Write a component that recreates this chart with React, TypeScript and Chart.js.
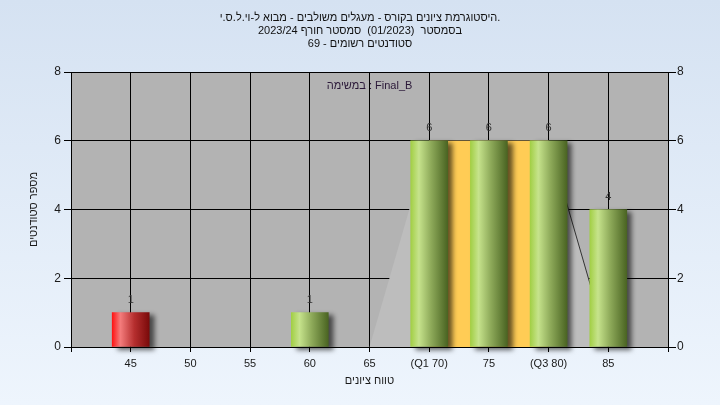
import { useEffect, useRef } from 'react';
import { Chart, registerables } from 'chart.js';

Chart.register(...registerables);

const titleLines = [
  'היסטוגרמת ציונים בקורס - מעגלים משולבים - מבוא ל-וי.ל.ס.י.',
  'בסמסטר  (01/2023)  סמסטר חורף 2023/24',
  'סטודנטים רשומים - 69',
];
const assignmentLabel = 'במשימה : Final_B';
const xAxisTitle = 'טווח ציונים';
const yAxisTitle = 'מספר סטודנטים';

const xTickValues = [45, 50, 55, 60, 65, 70, 75, 80, 85];
const xTickLabels = ['45', '50', '55', '60', '65', '(Q1 70)', '75', '(Q3 80)', '85'];
const studentCounts = [1, 0, 0, 1, 0, 6, 6, 6, 4];
const yTickValues = [0, 2, 4, 6, 8];

const quartileX = [70, 80];
const quartileY = [6, 6];
const spreadX = [65, 70, 80, 85];
const spreadY = [0, 6, 6, 0];
const passingGrade = 55;

const FONT = "'Liberation Sans', Arial, sans-serif";
const TEXT = '#1a1a1a';
const FS = 11;

const greenStops: [number, string][] = [
  [0, '#a2cf45'],
  [0.22, '#c6e38c'],
  [0.55, '#8eaa5a'],
  [1, '#4a6422'],
];
const redStops: [number, string][] = [
  [0, '#ff1414'],
  [0.22, '#f47c7c'],
  [0.6, '#b52e2e'],
  [1, '#7a0a0a'],
];

const backgroundPlugin = {
  id: 'bgPlugin',
  beforeDraw(chart: any) {
    const { ctx, width, height, chartArea } = chart;
    ctx.save();
    const g = ctx.createLinearGradient(0, 0, 0, height);
    g.addColorStop(0, '#d5e2f2');
    g.addColorStop(1, '#eef5fd');
    ctx.fillStyle = g;
    ctx.fillRect(0, 0, width, height);
    if (chartArea) {
      ctx.fillStyle = '#b3b3b3';
      ctx.fillRect(chartArea.left, chartArea.top, chartArea.right - chartArea.left, chartArea.bottom - chartArea.top);
    }
    ctx.restore();
  },
};

const shadowPlugin = {
  id: 'barShadow',
  beforeDatasetDraw(chart: any, args: any) {
    if (args.meta.type !== 'bar') return;
    const ctx = chart.ctx;
    ctx.save();
    ctx.shadowColor = 'rgba(0,0,0,0.6)';
    ctx.shadowBlur = 5;
    ctx.shadowOffsetX = 5;
    ctx.shadowOffsetY = 3;
  },
  afterDatasetDraw(chart: any, args: any) {
    if (args.meta.type !== 'bar') return;
    chart.ctx.restore();
  },
};

const labelPlugin = {
  id: 'valueLabels',
  afterDatasetsDraw(chart: any) {
    const ctx = chart.ctx;
    ctx.save();
    ctx.font = `${FS}px ${FONT}`;
    ctx.textAlign = 'center';
    ctx.textBaseline = 'middle';
    ctx.fillStyle = '#333333';
    chart.data.datasets.forEach((ds: any, di: number) => {
      if (ds.type !== 'bar') return;
      const meta = chart.getDatasetMeta(di);
      meta.data.forEach((el: any, i: number) => {
        const v = ds.data[i].y;
        ctx.fillText(String(v), el.x, el.y - 12.5);
      });
    });
    const ca = chart.chartArea;
    ctx.fillStyle = '#2a1838';
    ctx.fillText(assignmentLabel, (ca.left + ca.right) / 2, ca.top + 14);
    ctx.restore();
  },
};

export default function App() {
  const canvasRef = useRef<HTMLCanvasElement | null>(null);

  useEffect(() => {
    const canvas = canvasRef.current;
    if (!canvas) return;

    const barData = xTickValues
      .map((x, i) => ({ x, y: studentCounts[i] }))
      .filter((p) => p.y > 0);

    const chart = new Chart(canvas, {
      type: 'bar',
      data: {
        datasets: [
          {
            type: 'bar',
            data: barData,
            barThickness: 37,
            borderWidth: 0,
            clip: false,
            order: 0,
            xAxisID: 'x',
            yAxisID: 'y',
            backgroundColor: (c: any) => {
              const chart = c.chart;
              const xs = chart.scales && chart.scales.x;
              const raw = c.raw;
              if (!xs || !raw || c.type !== 'data') return '#9c3';
              const cx = xs.getPixelForValue(raw.x);
              if (!Number.isFinite(cx)) return raw.x < passingGrade ? '#d03030' : '#90b050';
              const half = 18.5;
              const g = chart.ctx.createLinearGradient(cx - half, 0, cx + half, 0);
              const stops = raw.x < passingGrade ? redStops : greenStops;
              stops.forEach(([o, col]) => g.addColorStop(o, col));
              return g;
            },
          } as any,
          {
            type: 'line',
            data: quartileX.map((x, i) => ({ x, y: quartileY[i] })),
            fill: 'origin',
            backgroundColor: '#ffcc55',
            borderWidth: 0,
            borderColor: 'transparent',
            pointRadius: 0,
            order: 1,
            xAxisID: 'x',
            yAxisID: 'y',
          } as any,
          {
            type: 'line',
            data: spreadX.map((x, i) => ({ x, y: spreadY[i] })),
            fill: 'origin',
            backgroundColor: '#bdbdbd',
            borderWidth: 1,
            borderColor: '#333333',
            segment: {
              borderColor: (s: any) => (s.p0DataIndex === spreadX.length - 2 ? '#333333' : 'rgba(0,0,0,0)'),
            },
            pointRadius: 0,
            order: 2,
            xAxisID: 'x',
            yAxisID: 'y',
          } as any,
        ],
      },
      options: {
        responsive: false,
        animation: false,
        events: [],
        layout: { padding: 0 },
        plugins: {
          legend: { display: false },
          tooltip: { enabled: false },
          title: {
            display: true,
            text: titleLines,
            color: '#111111',
            font: { family: FONT, size: FS, lineHeight: 13 / FS, weight: 'normal' },
            padding: { top: 11.5, bottom: 21.5 },
          },
        },
        scales: {
          x: {
            type: 'linear',
            position: 'bottom',
            offset: false,
            min: 40,
            max: 90,
            afterBuildTicks: (s: any) => {
              s.ticks = [40, ...xTickValues, 90].map((v) => ({ value: v }));
            },
            afterFit: (s: any) => {
              s.height = 58;
            },
            ticks: {
              autoSkip: false,
              maxRotation: 0,
              padding: 5,
              color: TEXT,
              font: { family: FONT, size: FS },
              callback: (v: any) => {
                const i = xTickValues.indexOf(Number(v));
                return i >= 0 ? xTickLabels[i] : '';
              },
            },
            grid: { color: '#000000', lineWidth: 1, tickLength: 5, offset: false },
            border: { color: '#000000' },
            title: {
              display: true,
              text: xAxisTitle,
              color: TEXT,
              font: { family: FONT, size: FS },
              padding: { top: 4, bottom: 17 },
            },
          },
          y: {
            type: 'linear',
            position: 'left',
            min: 0,
            max: 8,
            afterBuildTicks: (s: any) => {
              s.ticks = yTickValues.map((v) => ({ value: v }));
            },
            afterFit: (s: any) => {
              s.width = 71;
            },
            ticks: { padding: 3, color: TEXT, font: { family: FONT, size: 12 } },
            grid: { color: '#000000', lineWidth: 1, tickLength: 7 },
            border: { color: '#000000' },
            title: {
              display: true,
              text: yAxisTitle,
              color: TEXT,
              font: { family: FONT, size: FS },
              padding: { top: 27, bottom: 0 },
            },
          },
          y2: {
            type: 'linear',
            position: 'right',
            min: 0,
            max: 8,
            afterBuildTicks: (s: any) => {
              s.ticks = yTickValues.map((v) => ({ value: v }));
            },
            afterFit: (s: any) => {
              s.width = 52;
            },
            ticks: { padding: 1, color: TEXT, font: { family: FONT, size: 12 } },
            grid: { color: '#000000', lineWidth: 1, tickLength: 8, drawOnChartArea: false },
            border: { color: '#000000' },
          },
        },
      } as any,
      plugins: [backgroundPlugin, shadowPlugin, labelPlugin],
    });

    return () => chart.destroy();
  }, []);

  return (
    <div style={{ position: 'fixed', left: 0, top: 0, width: 720, height: 405, margin: 0 }}>
      <canvas ref={canvasRef} width={720} height={405} style={{ display: 'block' }} />
    </div>
  );
}
